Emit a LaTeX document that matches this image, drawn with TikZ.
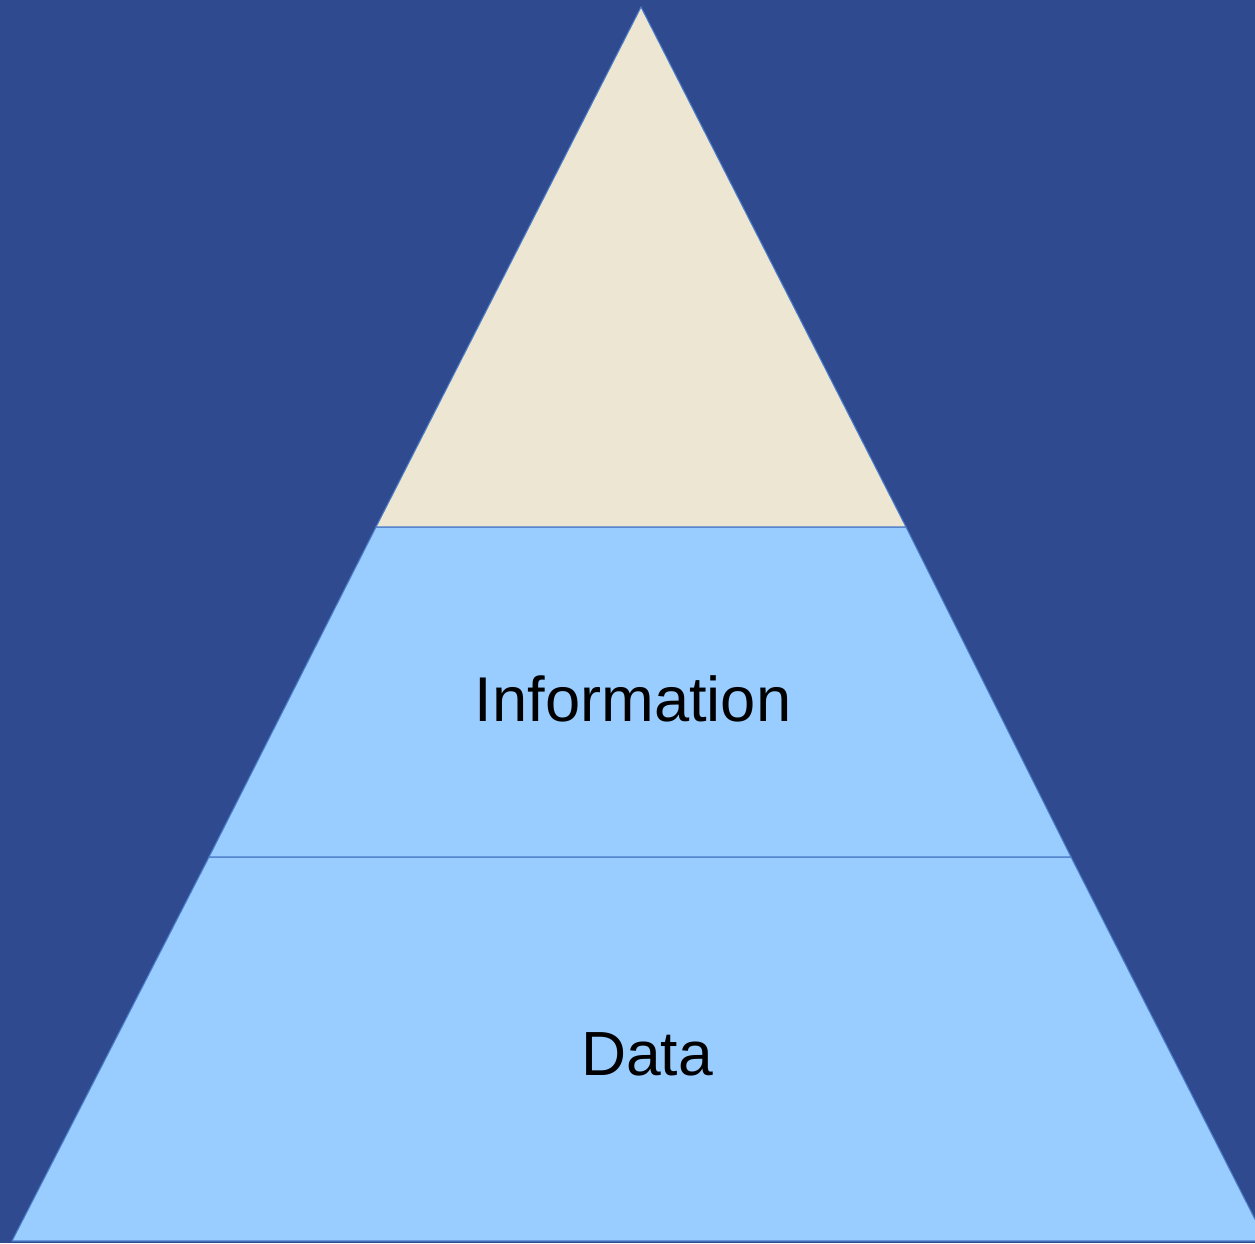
\documentclass[tikz,border=0pt]{standalone}
\usepackage{fontspec}
\setmainfont{Liberation Sans}
\definecolor{boardblue}{HTML}{2F4A8E}
\definecolor{topcream}{HTML}{ECE6D2}
\definecolor{layerblue}{HTML}{99CCFF}
\definecolor{edgeblue}{HTML}{4A7BC8}
\tikzset{
	layer/.style = {fill = layerblue, draw = edgeblue, line width = 0.6pt},
	label/.style = {anchor = base, inner sep = 0pt, text = black}
}
\begin{document}
\begin{tikzpicture}[x = 0.2mm, y = -0.2mm]
		% background
		\fill[boardblue] (0, 0) rectangle (1255, 1243);
		\useasboundingbox (0, 0) rectangle (1255, 1243);
		% corners of the pyramid
		\coordinate (apex) at (641, 7);
		\coordinate (midL) at (376, 527);
		\coordinate (midR) at (906, 527);
		\coordinate (lowL) at (209, 857);
		\coordinate (lowR) at (1071, 857);
		\coordinate (baseL) at (12, 1241);
		\coordinate (baseR) at (1266, 1241);
		% the layers
		\begin{scope}
			\clip (0, 0) rectangle (1255, 1243);
			\draw[layer] (lowL) -- (lowR) -- (baseR) -- (baseL) -- cycle;
			\draw[layer] (midL) -- (midR) -- (lowR) -- (lowL) -- cycle;
			\draw[fill = topcream, draw = edgeblue, line width = 0.6pt] (apex) -- (midR) -- (midL) -- cycle;
		\end{scope}
		% the words
		\node[label, font = \fontsize{36}{40}\selectfont] (information) at (633, 721) {Information};
		\node[label, font = \fontsize{35.5}{40}\selectfont] (data) at (647, 1075) {Data};
	\end{tikzpicture}
\end{document}
